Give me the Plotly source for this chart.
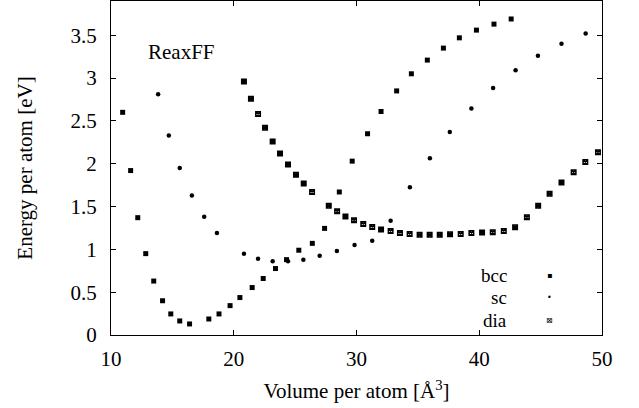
import plotly.graph_objects as go

# ---- data ----
bcc_v = [10.95, 11.6, 12.18, 12.83, 13.48, 14.2, 14.87, 15.6, 16.4, 17.97, 18.8, 19.7,
         20.5, 21.5, 22.4, 23.4, 24.3, 25.3, 26.4, 27.4, 28.6, 29.65, 30.9, 32.0,
         33.27, 34.47, 35.77, 37.08, 38.38, 39.77, 41.2, 42.6]
bcc_e = [2.60, 1.92, 1.37, 0.95, 0.63, 0.40, 0.246, 0.164, 0.129, 0.187, 0.246, 0.343,
         0.437, 0.554, 0.66, 0.776, 0.88, 0.99, 1.07, 1.245, 1.67, 2.03, 2.35, 2.61,
         2.85, 3.05, 3.21, 3.35, 3.47, 3.56, 3.63, 3.69]

sc_v = [13.84, 14.71, 15.6, 16.59, 17.59, 18.63, 20.83, 21.98, 23.17, 24.42, 25.67,
        27.0, 28.4, 29.84, 31.28, 32.78, 34.35, 35.98, 37.6, 39.36, 41.13, 42.96,
        44.78, 46.7, 48.67]
sc_e = [2.81, 2.33, 1.95, 1.63, 1.38, 1.19, 0.95, 0.89, 0.86, 0.86, 0.88,
        0.925, 0.98, 1.05, 1.10, 1.335, 1.725, 2.065, 2.37, 2.646, 2.885, 3.09,
        3.26, 3.40, 3.52]

dia_v = [20.83, 21.4, 21.98, 22.55, 23.17, 23.77, 24.42, 25.07, 25.7, 26.38, 27.74,
         28.42, 29.1, 29.8, 30.55, 31.28, 32.0, 32.78, 33.54, 34.33, 35.14, 35.96,
         36.78, 37.62, 38.49, 39.36, 40.23, 41.1, 42.0, 42.92, 43.88, 44.8, 45.73,
         46.7, 47.69, 48.64, 49.67]
dia_e = [2.96, 2.76, 2.58, 2.42, 2.26, 2.12, 1.99, 1.87, 1.77, 1.67, 1.51,
         1.444, 1.385, 1.34, 1.296, 1.26, 1.233, 1.214, 1.19, 1.18, 1.17, 1.17,
         1.17, 1.175, 1.18, 1.19, 1.198, 1.20, 1.214, 1.257, 1.374, 1.51, 1.65,
         1.78, 1.90, 2.02, 2.135]

x_ticks = [10, 20, 30, 40, 50]
y_ticks = [0, 0.5, 1, 1.5, 2, 2.5, 3, 3.5]
y_tick_labels = ["0", "0.5", "1", "1.5", "2", "2.5", "3", "3.5"]

series_names = ["bcc", "sc", "dia"]
legend_glyphs = ["\u25aa", "\u2022", "\u22a0"]

FONT = "Liberation Serif"
FS = 21
LEG_FS = 19

fig = go.Figure()
fig.add_trace(go.Scatter(x=bcc_v, y=bcc_e, mode="markers", name="bcc",
                         marker=dict(symbol="square", size=5, color="black")))
fig.add_trace(go.Scatter(x=sc_v, y=sc_e, mode="markers", name="sc",
                         marker=dict(symbol="circle", size=4.5, color="black")))
fig.add_trace(go.Scatter(x=dia_v, y=dia_e, mode="markers", name="dia",
                         marker=dict(symbol="square-x-open", size=4.5, color="black",
                                     line=dict(width=1.5, color="black"))))

axis_common = dict(showline=True, mirror="allticks", linecolor="black", linewidth=1,
                   ticks="inside", ticklen=5, tickwidth=1, tickcolor="black",
                   showgrid=False, zeroline=False,
                   tickfont=dict(family=FONT, size=FS, color="black"))

fig.update_xaxes(range=[10, 50], tickvals=x_ticks,
                 ticklabelstandoff=5,
                 title=dict(text="Volume per atom [\u00c5<sup>3</sup>]",
                            font=dict(family=FONT, size=FS, color="black"),
                            standoff=13),
                 **axis_common)
fig.update_yaxes(range=[0, 3.9], tickvals=y_ticks, ticktext=y_tick_labels,
                 ticklabelstandoff=9,
                 title=dict(text="Energy per atom [eV]",
                            font=dict(family=FONT, size=FS, color="black"),
                            standoff=32),
                 **axis_common)

annotations = [dict(x=12.85, y=3.30, xref="x", yref="y", text="ReaxFF",
                    showarrow=False, xanchor="left", yanchor="middle",
                    font=dict(family=FONT, size=FS, color="black"))]
leg_y = [0.696, 0.433, 0.170]
for name, glyph, yy in zip(series_names, legend_glyphs, leg_y):
    annotations.append(dict(x=42.35, y=yy, xref="x", yref="y", text=name,
                            showarrow=False, xanchor="right", yanchor="middle",
                            borderpad=0,
                            font=dict(family=FONT, size=LEG_FS, color="black")))
    annotations.append(dict(x=45.75, y=yy, xref="x", yref="y", text=glyph,
                            showarrow=False, xanchor="center", yanchor="middle",
                            font=dict(family="DejaVu Sans", size=8, color="black")))

fig.update_layout(width=639, height=408,
                  margin=dict(l=111, r=37, t=1, b=73, autoexpand=False),
                  paper_bgcolor="white", plot_bgcolor="white",
                  showlegend=False, annotations=annotations,
                  font=dict(family=FONT, size=FS, color="black"))

fig.write_html("out.html", config={"displayModeBar": False},
               post_script="document.body.style.margin='0';document.body.style.overflow='hidden';")
